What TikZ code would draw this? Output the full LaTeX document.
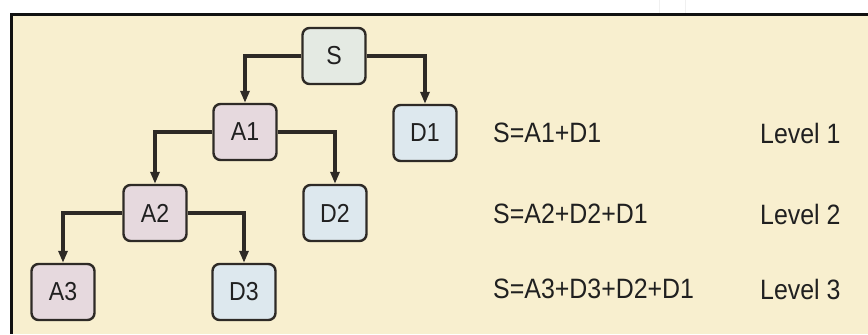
\documentclass[tikz,border=0pt]{standalone}
\usepackage{fontspec}
\setmainfont{Liberation Sans}
\newfontfamily\narrowsans[FakeStretch=0.89]{Liberation Sans}
\usetikzlibrary{arrows.meta}

\definecolor{paper}{HTML}{F8EFCF}
\definecolor{frameline}{HTML}{111111}
\definecolor{boxline}{HTML}{2E2A26}
\definecolor{rootfill}{HTML}{E4EAE3}
\definecolor{approxfill}{HTML}{E6D9DE}
\definecolor{detailfill}{HTML}{DDE8EE}
\definecolor{inktext}{HTML}{202020}

\tikzset{
  coef/.style={draw=boxline, line width=2.4bp, rounded corners=7bp,
    minimum width=63bp, minimum height=56bp, inner sep=0pt,
    text=inktext, font=\narrowsans\fontsize{26bp}{30bp}\selectfont},
  rootbox/.style={coef, fill=rootfill},
  approxbox/.style={coef, fill=approxfill},
  detailbox/.style={coef, fill=detailfill},
  split/.style={draw=boxline, line width=3.4bp,
    -{Triangle[length=12bp, width=9bp]}},
  note/.style={anchor=west, text=inktext, inner sep=0pt,
    font=\narrowsans\fontsize{28bp}{32bp}\selectfont}
}

\begin{document}
\begin{tikzpicture}[x=1bp, y=-1bp]
  \useasboundingbox (0,0) rectangle (868,334);

  % panel with a frame on its top and left edges
  \fill[white] (0,0) rectangle (868,334);
  \draw[gray!12, line width=1bp] (659,0) -- (659,13);
  \draw[gray!12, line width=1bp] (685,0) -- (685,13);
  \fill[paper] (10,13) rectangle (868,334);
  \draw[frameline, line width=3bp] (868,14.5) -- (11.5,14.5) -- (11.5,334);

  % decomposition tree
  \node[rootbox]   (S)  at (334,56)  {S};
  \node[approxbox] (A1) at (245,132) {A1};
  \node[detailbox] (D1) at (425,133) {D1};
  \node[approxbox] (A2) at (155,213) {A2};
  \node[detailbox] (D2) at (335,213) {D2};
  \node[approxbox] (A3) at (63,292)  {A3};
  \node[detailbox] (D3) at (244,292) {D3};

  \draw[split] (S.west)  -| (A1.north);
  \draw[split] (S.east)  -| (D1.north);
  \draw[split] (A1.west) -| (A2.north);
  \draw[split] (A1.east) -| (D2.north);
  \draw[split] (A2.west) -| (A3.north);
  \draw[split] (A2.east) -| (D3.north);

  % reconstruction sums per level
  \node[note] (f1) at (493,133) {S=A1+D1};
  \node[note] (f2) at (493,214) {S=A2+D2+D1};
  \node[note] (f3) at (493,289) {S=A3+D3+D2+D1};
  \node[note] (l1) at (760,133) {Level 1};
  \node[note] (l2) at (760,214) {Level 2};
  \node[note] (l3) at (760,289) {Level 3};
\end{tikzpicture}
\end{document}
